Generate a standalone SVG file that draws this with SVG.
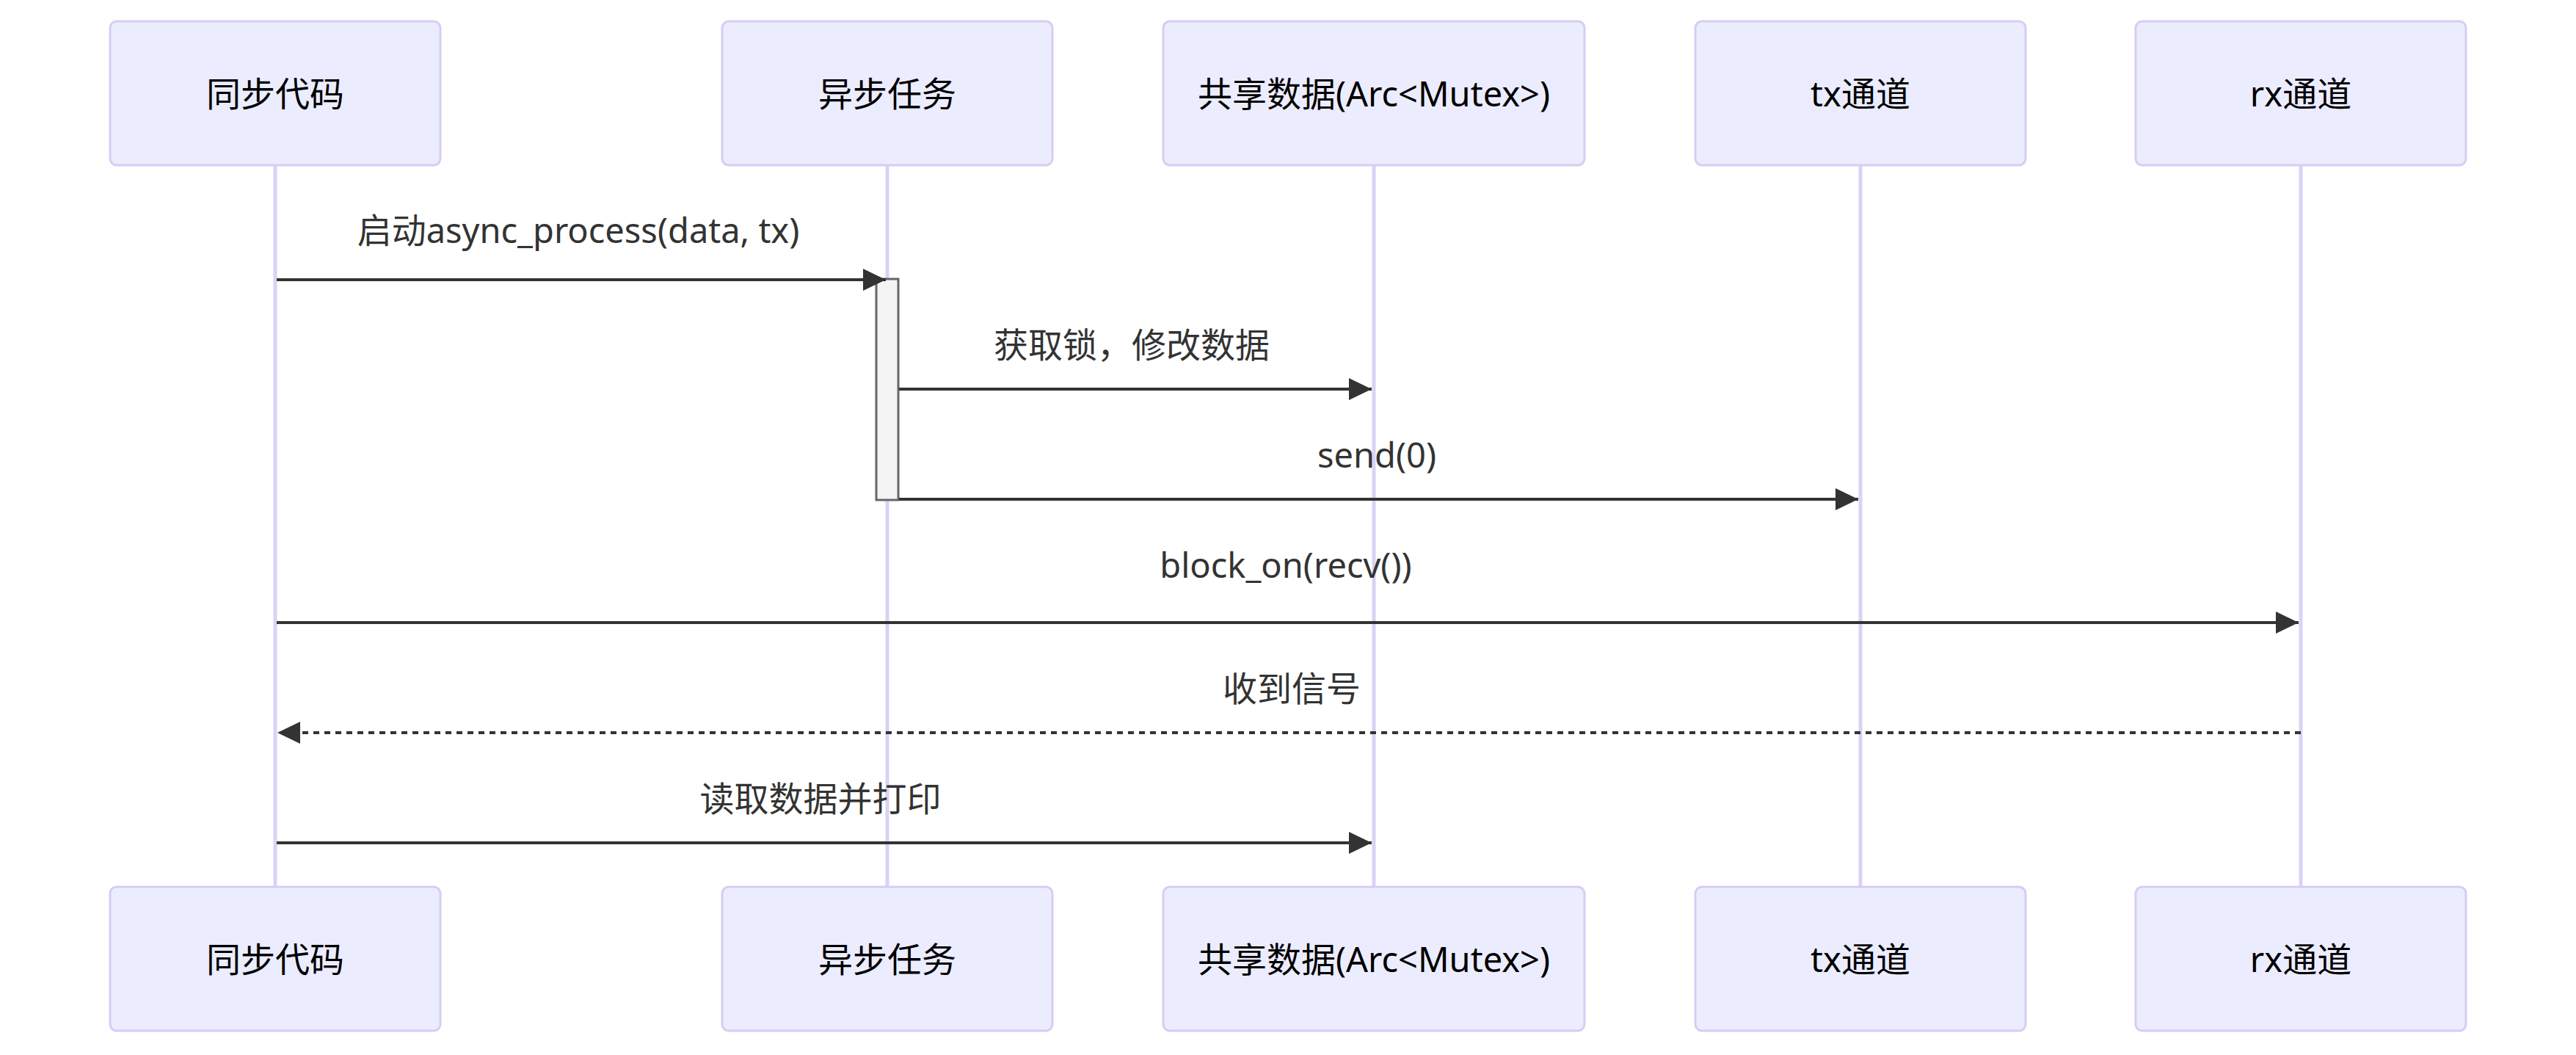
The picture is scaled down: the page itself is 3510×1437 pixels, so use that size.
<svg xmlns="http://www.w3.org/2000/svg" width="3510" height="1437" viewBox="0 0 3510 1437">
<style>
.actor{fill:#ECECFF;stroke:#d6cdf3;stroke-width:3}
.actor-text{font-family:"Noto Sans","Noto Sans CJK SC",sans-serif;font-size:47px;fill:#000;text-anchor:middle}
.lifeline{stroke:#dad2f5;stroke-width:5}
.msg{stroke:#333;stroke-width:4;fill:none}
.dashed{stroke-dasharray:8 7}
.msg-text{font-family:"Noto Sans","Noto Sans CJK SC",sans-serif;font-size:47px;fill:#333;text-anchor:middle}
.activation{fill:#f4f4f4;stroke:#666;stroke-width:3}
</style>
<defs>
<marker id="arrow" markerUnits="userSpaceOnUse" markerWidth="32" markerHeight="32" refX="31" refY="15" orient="auto" viewBox="0 0 32 32">
<path d="M0,0 L31,15 L0,30 z" fill="#333"/>
</marker>
</defs>
<rect width="3510" height="1437" fill="#fff"/>
<g id="lifelines">
<line class="lifeline" x1="375" y1="225" x2="375" y2="1208"/>
<line class="lifeline" x1="1209" y1="225" x2="1209" y2="1208"/>
<line class="lifeline" x1="1872" y1="225" x2="1872" y2="1208"/>
<line class="lifeline" x1="2535" y1="225" x2="2535" y2="1208"/>
<line class="lifeline" x1="3135" y1="225" x2="3135" y2="1208"/>
</g>
<g id="actor-sync-top"><rect class="actor" x="150" y="29" width="450" height="196" rx="9"/><text class="actor-text" x="375" y="145">同步代码</text></g>
<g id="actor-async-top"><rect class="actor" x="984" y="29" width="450" height="196" rx="9"/><text class="actor-text" x="1209" y="145">异步任务</text></g>
<g id="actor-data-top"><rect class="actor" x="1585" y="29" width="574" height="196" rx="9"/><text class="actor-text" x="1872" y="145">共享数据(Arc&lt;Mutex&gt;)</text></g>
<g id="actor-tx-top"><rect class="actor" x="2310" y="29" width="450" height="196" rx="9"/><text class="actor-text" x="2535" y="145">tx通道</text></g>
<g id="actor-rx-top"><rect class="actor" x="2910" y="29" width="450" height="196" rx="9"/><text class="actor-text" x="3135" y="145">rx通道</text></g>
<g id="actor-sync-bottom"><rect class="actor" x="150" y="1208" width="450" height="196" rx="9"/><text class="actor-text" x="375" y="1324">同步代码</text></g>
<g id="actor-async-bottom"><rect class="actor" x="984" y="1208" width="450" height="196" rx="9"/><text class="actor-text" x="1209" y="1324">异步任务</text></g>
<g id="actor-data-bottom"><rect class="actor" x="1585" y="1208" width="574" height="196" rx="9"/><text class="actor-text" x="1872" y="1324">共享数据(Arc&lt;Mutex&gt;)</text></g>
<g id="actor-tx-bottom"><rect class="actor" x="2310" y="1208" width="450" height="196" rx="9"/><text class="actor-text" x="2535" y="1324">tx通道</text></g>
<g id="actor-rx-bottom"><rect class="actor" x="2910" y="1208" width="450" height="196" rx="9"/><text class="actor-text" x="3135" y="1324">rx通道</text></g>
<g id="activation-async"><rect class="activation" x="1194" y="380" width="30" height="301"/></g>
<g id="connectors">
<line class="msg" x1="377" y1="381" x2="1207" y2="381" marker-end="url(#arrow)"/>
<text class="msg-text" x="788" y="331">启动async_process(data, tx)</text>
<line class="msg" x1="1225" y1="530" x2="1869" y2="530" marker-end="url(#arrow)"/>
<text class="msg-text" x="1542" y="487">获取锁，修改数据</text>
<line class="msg" x1="1225" y1="680" x2="2532" y2="680" marker-end="url(#arrow)"/>
<text class="msg-text" x="1876" y="637">send(0)</text>
<line class="msg" x1="377" y1="848" x2="3132" y2="848" marker-end="url(#arrow)"/>
<text class="msg-text" x="1752" y="787">block_on(recv())</text>
<line class="msg dashed" x1="3135" y1="998" x2="378" y2="998" marker-end="url(#arrow)"/>
<text class="msg-text" x="1760" y="955">收到信号</text>
<line class="msg" x1="377" y1="1148" x2="1869" y2="1148" marker-end="url(#arrow)"/>
<text class="msg-text" x="1118" y="1105">读取数据并打印</text>
</g>
</svg>
